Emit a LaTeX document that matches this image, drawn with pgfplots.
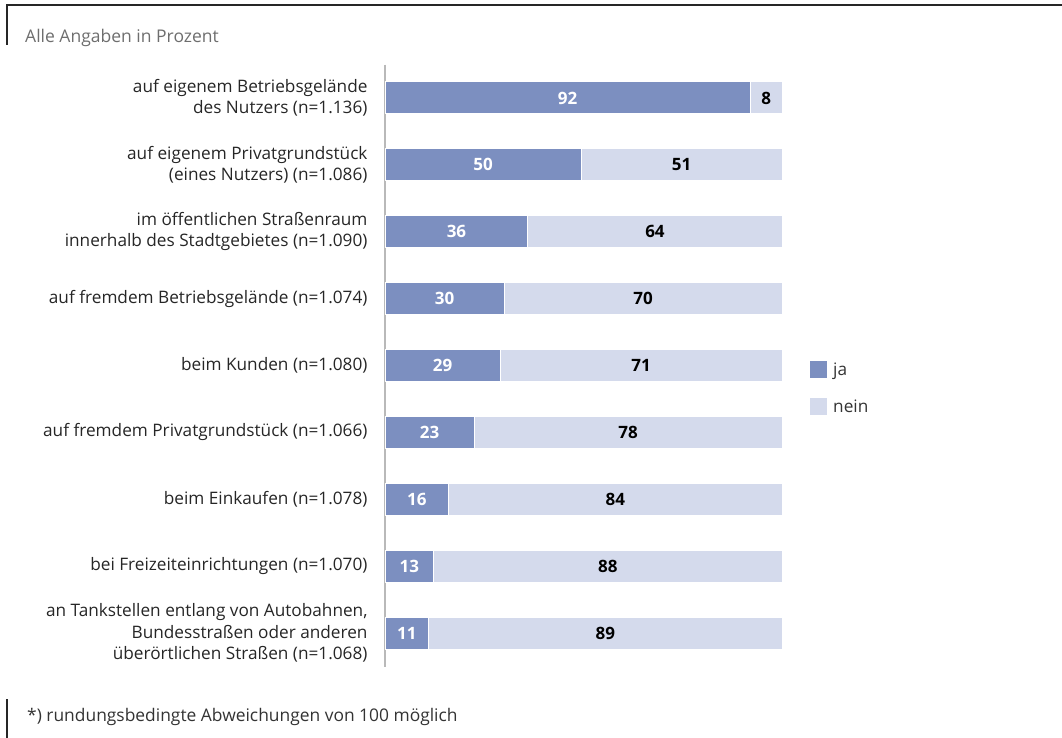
\documentclass[border=0pt]{standalone}
\usepackage{fontspec}
\setmainfont{Open Sans}
\usepackage{pgfplots}
\pgfplotsset{compat=1.18}
\usepackage{pgfplotstable}
\definecolor{jacol}{RGB}{124,143,192}
\definecolor{neincol}{RGB}{212,218,236}
\definecolor{axgray}{RGB}{185,185,185}
\definecolor{titlegray}{RGB}{110,110,110}
\pgfplotstableread[col sep=comma]{
idx,ja,nein,jal,neinl
0,92,8,92,8
1,49.4,50.6,50,51
2,36,64,36,64
3,30,70,30,70
4,29,71,29,71
5,22.5,77.5,23,78
6,16,84,16,84
7,12.3,87.7,13,88
8,11,89,11,89
}\data
\begin{document}
\begin{tikzpicture}
\useasboundingbox (0,0) rectangle (1062bp,-738bp);
\draw[line width=2bp, black!85] (6bp,-5bp) -- (1062bp,-5bp);
\draw[line width=2bp, black!85] (7bp,-4bp) -- (7bp,-45bp);
\draw[line width=2bp, black!85] (7bp,-699bp) -- (7bp,-738bp);
\node[anchor=west, text=titlegray, font=\fontsize{17.5bp}{20bp}\selectfont, inner sep=0] at (25bp,-38bp) {Alle Angaben in Prozent};
\node[anchor=west, text=black!80, font=\fontsize{17.4bp}{20bp}\selectfont, inner sep=0] at (27bp,-717bp) {*) rundungsbedingte Abweichungen von 100 möglich};
\begin{axis}[
  at={(385bp,-64.5bp)}, anchor=north west,
  scale only axis, width=397bp, height=602bp,
  clip=false,
  xbar stacked, bar width=32bp,
  xmin=0, xmax=100, ymin=-0.5, ymax=8.5, y dir=reverse,
  axis x line=none, axis y line*=left,
  y axis line style={axgray, line width=1.5bp, -},
  ytick={0,...,8}, major tick length=0,
  yticklabels={
    {auf eigenem Betriebsgelände\\des Nutzers (n=1.136)},
    {auf eigenem Privatgrundstück\\(eines Nutzers) (n=1.086)},
    {im öffentlichen Straßenraum\\innerhalb des Stadtgebietes (n=1.090)},
    {auf fremdem Betriebsgelände (n=1.074)},
    {beim Kunden (n=1.080)},
    {auf fremdem Privatgrundstück (n=1.066)},
    {beim Einkaufen (n=1.078)},
    {bei Freizeiteinrichtungen (n=1.070)},
    {an Tankstellen entlang von Autobahnen,\\Bundesstraßen oder anderen\\überörtlichen Straßen (n=1.068)}},
  yticklabel style={align=right, font=\fontsize{17.2bp}{21.5bp}\selectfont, text=black!85, xshift=-14bp},
  legend style={at={(1.063,0.512)}, anchor=north west, draw=none, fill=none,
    font=\fontsize{17.2bp}{20bp}\selectfont, row sep=19bp, text=black!80},
  legend cell align=left,
  legend image code/.code={\fill[#1, draw=none] (0bp,-8.5bp) rectangle (17bp,8.5bp); \path[draw=none, fill=none] (0bp,0bp) -- (21bp,0bp);},
  nodes near coords,
  point meta=explicit symbolic,
]
\addplot[fill=jacol, draw=white, line width=1bp,
  every node near coord/.append style={anchor=center, text=white,
    font=\fontsize{17bp}{20bp}\selectfont\bfseries}]
  table[x=ja, y=idx, meta=jal]{\data};
\addlegendentry{ja}
\addplot[fill=neincol, draw=white, line width=1bp,
  every node near coord/.append style={anchor=center, text=black,
    font=\fontsize{17bp}{20bp}\selectfont\bfseries}]
  table[x=nein, y=idx, meta=neinl]{\data};
\addlegendentry{nein}
\end{axis}
\end{tikzpicture}
\end{document}
